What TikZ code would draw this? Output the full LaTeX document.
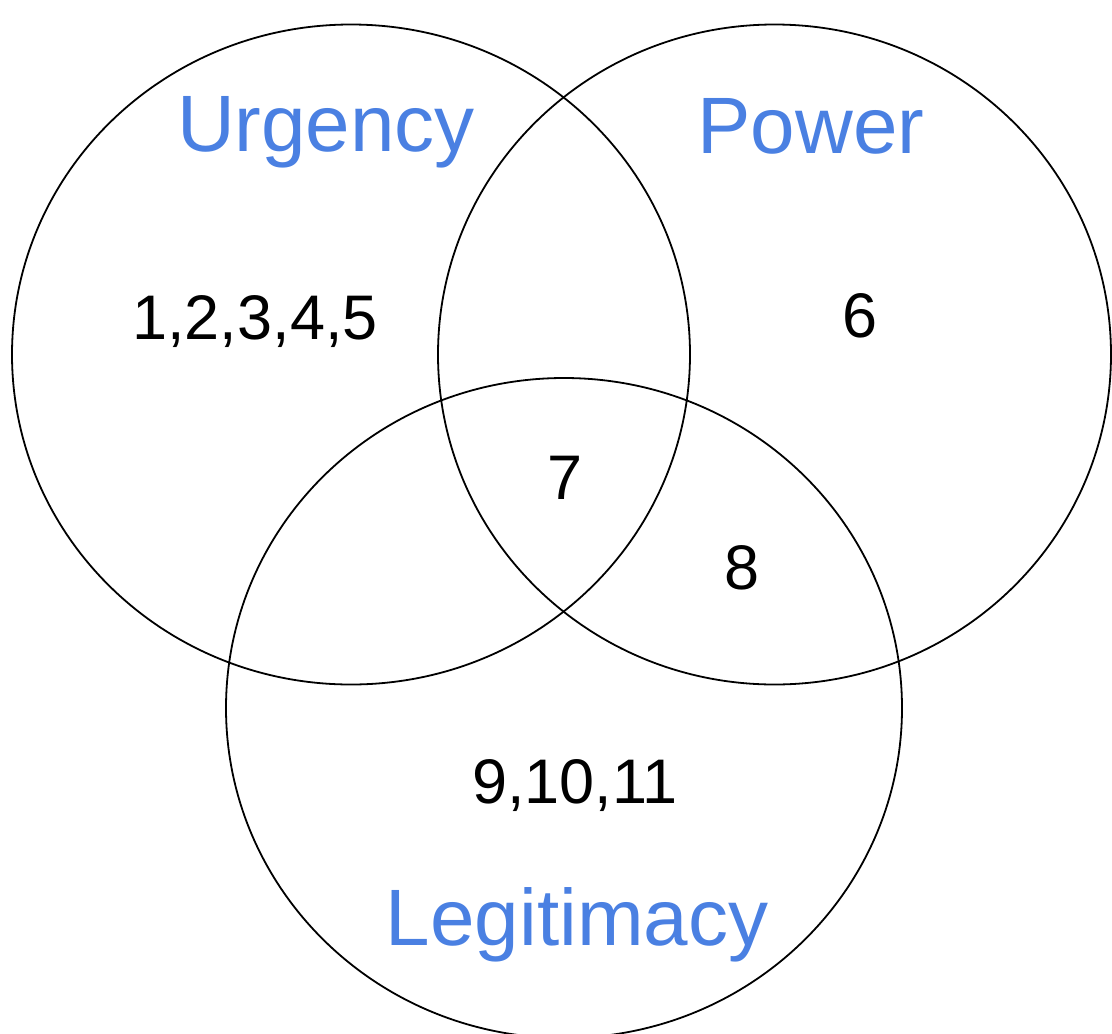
\documentclass[tikz,border=0pt]{standalone}
\usepackage{fontspec}
\setmainfont{Liberation Sans}
\definecolor{setblue}{RGB}{74,128,226}
\tikzset{
  setline/.style={draw=black, line width=1.8pt},
  setlabel/.style={text=setblue, anchor=base, inner sep=0pt, font=\fontsize{80}{96}\selectfont},
  member/.style={text=black, anchor=base, inner sep=0pt, font=\fontsize{63}{76}\selectfont}
}
\begin{document}
\begin{tikzpicture}[x=1pt,y=-1pt]
\useasboundingbox (0,0) rectangle (1112,1034);
\clip (0,0) rectangle (1112,1034);
\draw[setline] (351,354.5) ellipse [x radius=339, y radius=330];
\draw[setline] (774.5,354.5) ellipse [x radius=336.5, y radius=330];
\draw[setline] (564,708) ellipse [x radius=338, y radius=330];
\node[setlabel] (urgency) at (326,151) {Urgency};
\node[setlabel] (power) at (811,153) {Power};
\node[setlabel] (legit) at (577,945) {Legitimacy};
\node[member] (u) at (255,339) {1,2,3,4,5};
\node[member] (p) at (860,337) {6};
\node[member] (upl) at (565,499) {7};
\node[member] (pl) at (742,589) {8};
\node[member] (l) at (575,803) {9,10,11};
\end{tikzpicture}
\end{document}
